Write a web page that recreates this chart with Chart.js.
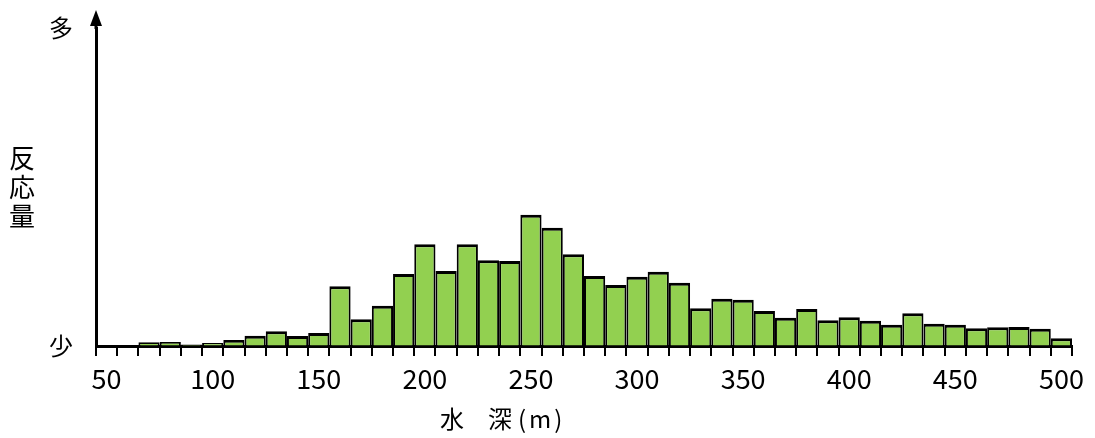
<!DOCTYPE html>
<html><head><meta charset="utf-8">
<script src="https://cdn.jsdelivr.net/npm/chart.js@4/dist/chart.umd.min.js"></script>
<style>html,body{margin:0;padding:0;background:#fff;}#wrap{width:1095px;height:438px;}</style>
</head><body><div id="wrap"><canvas id="c" width="1095" height="438"></canvas></div>
<script>
// 水深カテゴリ (m)
const depthLabels = [50,60,70,80,90,100,110,120,130,140,150,160,170,180,190,200,210,220,230,240,250,260,270,280,290,300,310,320,330,340,350,360,370,380,390,400,410,420,430,440,450,460,470,480,490,500];
// 反応量 (相対値)
const responseValues = [0,0,3.7,4,1.5,3,6,10.3,14.7,10,13,59.7,26.7,40.3,72,101.7,75,101.7,85.7,85,131.3,118.3,91.7,70,61,69.3,74.3,63.3,37.7,47.3,46.3,35,28.3,37,25.7,28.7,25.3,21.3,32.7,22.3,21.3,17.7,18.7,19,17.3,7.7];
const xTickLabels = [50,100,150,200,250,300,350,400,450,500];
const yTickLabels = ['少','多'];
const xTitleMain = '水　深';
const xTitleUnit = '(m)';
const yTitleChars = ['反','応','量'];
const Y_MAX = 318;

const FONT = "'Noto Sans CJK JP', 'Noto Sans', sans-serif";

const extras = {
  id: 'extras',
  afterDraw(chart) {
    const {ctx, chartArea} = chart;
    const ax = chart.scales.x.left;
    ctx.save();
    ctx.fillStyle = '#000';
    ctx.strokeStyle = '#000';
    ctx.lineWidth = 3;
    ctx.beginPath();
    ctx.moveTo(ax, chartArea.top + 1);
    ctx.lineTo(ax, 22);
    ctx.stroke();
    ctx.beginPath();
    ctx.moveTo(ax, 10);
    ctx.lineTo(ax - 6, 26);
    ctx.lineTo(ax + 6, 26);
    ctx.closePath();
    ctx.fill();
    ctx.textAlign = 'left';
    ctx.textBaseline = 'middle';
    ctx.font = '24px ' + FONT;
    ctx.fillText(xTitleMain, 440, 419);
    if ('letterSpacing' in ctx) ctx.letterSpacing = '3px';
    ctx.fillText(xTitleUnit, 518, 419);
    if ('letterSpacing' in ctx) ctx.letterSpacing = '0px';
    ctx.textAlign = 'center';
    ctx.font = '26px ' + FONT;
    yTitleChars.forEach((ch, i) => ctx.fillText(ch, 22, 158 + i * 29));
    ctx.restore();
  }
};

new Chart(document.getElementById('c'), {
  type: 'bar',
  data: {
    labels: depthLabels,
    datasets: [{
      data: responseValues,
      backgroundColor: '#92D050',
      borderColor: '#000',
      borderWidth: {top: 3, left: 2, right: 2, bottom: 0},
      borderSkipped: false,
      inflateAmount: 0,
      categoryPercentage: 1,
      barPercentage: 1
    }]
  },
  options: {
    responsive: false,
    animation: false,
    events: [],
    layout: {padding: {top: 28, right: 23, left: 0, bottom: 0}},
    plugins: {legend: {display: false}, tooltip: {enabled: false}},
    scales: {
      x: {
        offset: true,
        grid: {offset: true, drawOnChartArea: false, color: '#000', lineWidth: 2, tickLength: 10},
        border: {color: '#000', width: 3},
        ticks: {
          autoSkip: false, maxRotation: 0, minRotation: 0, padding: 7,
          color: '#000', font: {family: FONT, size: 27},
          callback: function(v, i) {
            const lab = depthLabels[i];
            return xTickLabels.includes(lab) ? String(lab) : '';
          }
        },
        afterFit: s => { s.height = 92; s.paddingLeft = 0; s.paddingRight = 0; }
      },
      y: {
        min: 0, max: Y_MAX,
        grid: {drawOnChartArea: false, drawTicks: false},
        border: {color: '#000', width: 3},
        afterBuildTicks: s => { s.ticks = [{value: 0}, {value: Y_MAX}]; },
        ticks: {
          padding: 23, color: '#000', font: {family: FONT, size: 24},
          callback: (v) => v === 0 ? yTickLabels[0] : yTickLabels[1]
        },
        afterFit: s => { s.width = 96; s.paddingTop = 0; s.paddingBottom = 0; }
      }
    }
  },
  plugins: [extras]
});
</script></body></html>
